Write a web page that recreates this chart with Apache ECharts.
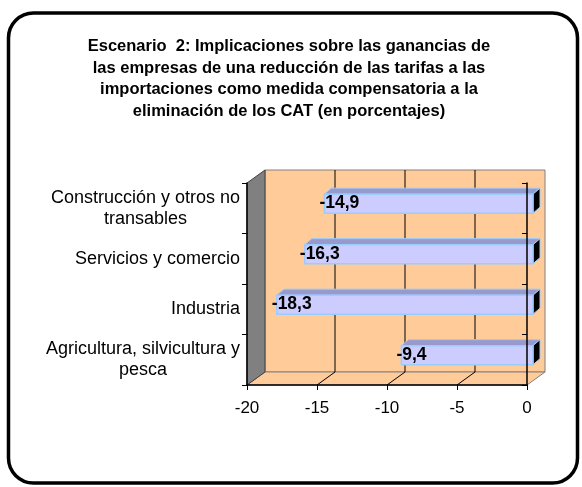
<!DOCTYPE html>
<html>
<head>
<meta charset="utf-8">
<script src="https://cdn.jsdelivr.net/npm/echarts@6/dist/echarts.min.js"></script>
<style>
html,body{margin:0;padding:0;background:#fff;}
#chart{width:582px;height:487px;}
</style>
</head>
<body>
<div id="chart"></div>
<script>
// ---- data ----
const titleText = 'Escenario  2: Implicaciones sobre las ganancias de\nlas empresas de una reducción de las tarifas a las\nimportaciones como medida compensatoria a la\neliminación de los CAT (en porcentajes)';
const categories = ['Agricultura, silvicultura y\npesca', 'Industria', 'Servicios y comercio', 'Construcción y otros no\ntransables'];
const values = [-9.4, -18.3, -16.3, -14.9];
const xTickValues = [-20, -15, -10, -5, 0];

// ---- style constants ----
const DEPTH_X = 18, DEPTH_Y = 13;      // wall depth
const BAR_OFF_X = 6, BAR_OFF_Y = 4.6;  // bar front face offset
const BAR_DX = 7, BAR_DY = 6;          // bar depth
const BAR_H = 19;
const FONT = 'Arial, "Liberation Sans", sans-serif';

const chart = echarts.init(document.getElementById('chart'));

function fmt(v) { return v.toFixed(1).replace('.', ','); }

const option = {
  animation: false,
  backgroundColor: '#ffffff',
  title: {
    text: titleText,
    left: 284, top: 31,
    textAlign: 'center',
    textStyle: { fontFamily: FONT, fontSize: 16.5, fontWeight: 'bold', color: '#000', lineHeight: 21.5 }
  },
  graphic: [{
    type: 'rect', z: 100,
    shape: { x: 8.5, y: 13, width: 569, height: 470, r: 25 },
    style: { fill: 'none', stroke: '#000', lineWidth: 3.5 }
  }],
  grid: { left: 247, right: 55, top: 183, bottom: 102, containLabel: false },
  xAxis: {
    type: 'value',
    min: xTickValues[0], max: xTickValues[xTickValues.length - 1], interval: 5,
    z: 10,
    axisLine: { show: true, lineStyle: { color: '#000', width: 1.5 } },
    axisTick: { show: true, length: 5, lineStyle: { color: '#000' } },
    splitLine: { show: false },
    axisLabel: { fontFamily: FONT, fontSize: 17, color: '#000', margin: 15 }
  },
  yAxis: [{
    type: 'category', data: categories, position: 'left',
    z: 10,
    axisLine: { show: true, onZero: false, lineStyle: { color: '#000', width: 1.5 } },
    axisTick: { show: true, length: 5, lineStyle: { color: '#000' } },
    axisLabel: {
      margin: 7, align: 'right',
      formatter: function (s) { return s.split('\n').map(function (l) { return '{c|' + l + '}'; }).join('\n'); },
      rich: { c: { align: 'center', fontFamily: FONT, fontSize: 18, color: '#000', lineHeight: 21 } }
    },
    splitLine: { show: false }
  }, {
    type: 'category', data: categories, position: 'right',
    z: 10,
    axisLine: { show: true, onZero: false, lineStyle: { color: '#000', width: 1.5 } },
    axisTick: { show: true, inside: true, length: 5, lineStyle: { color: '#000' } },
    axisLabel: { show: false },
    splitLine: { show: false }
  }],
  series: [{
    type: 'custom',
    name: 'frame',
    z: 1,
    silent: true,
    data: [[0, 0]],
    renderItem: function (params, api) {
      const cs = params.coordSys;
      const x = cs.x, y = cs.y, w = cs.width, h = cs.height;
      const ch = [];
      ch.push({ type: 'rect', shape: { x: x + DEPTH_X, y: y - DEPTH_Y, width: w, height: h },
        style: { fill: '#FFCC99', stroke: '#808080', lineWidth: 1 } });
      ch.push({ type: 'polygon', shape: { points: [[x, y + h], [x + w, y + h], [x + w + DEPTH_X, y + h - DEPTH_Y], [x + DEPTH_X, y + h - DEPTH_Y]] },
        style: { fill: '#FFCC99', stroke: '#808080', lineWidth: 1 } });
      ch.push({ type: 'polygon', shape: { points: [[x, y], [x + DEPTH_X, y - DEPTH_Y], [x + DEPTH_X, y + h - DEPTH_Y], [x, y + h]] },
        style: { fill: '#808080', stroke: '#404040', lineWidth: 1 } });
      xTickValues.slice(1, -1).forEach(function (v) {
        const px = api.coord([v, 0])[0];
        ch.push({ type: 'line', shape: { x1: px + DEPTH_X, y1: y - DEPTH_Y, x2: px + DEPTH_X, y2: y + h - DEPTH_Y },
          style: { stroke: '#000', lineWidth: 1 } });
        ch.push({ type: 'line', shape: { x1: px, y1: y + h, x2: px + DEPTH_X, y2: y + h - DEPTH_Y },
          style: { stroke: '#000', lineWidth: 1 } });
      });
      return { type: 'group', children: ch };
    }
  }, {
    type: 'custom',
    name: 'bars',
    z: 2,
    data: values.map(function (v, i) { return [v, i]; }),
    encode: { x: 0, y: 1 },
    renderItem: function (params, api) {
      const v = api.value(0), idx = api.value(1);
      const p0 = api.coord([0, idx]);
      const p1 = api.coord([v, idx]);
      const L = p1[0] + BAR_OFF_X, R = p0[0] + BAR_OFF_X;
      const cy = p0[1] - BAR_OFF_Y;
      const T = cy - BAR_H / 2, B = cy + BAR_H / 2;
      return {
        type: 'group',
        children: [
          { type: 'polygon', shape: { points: [[L, T], [R, T], [R + BAR_DX, T - BAR_DY], [L + BAR_DX, T - BAR_DY]] },
            style: { fill: '#9999CC', stroke: '#99CCFF', lineWidth: 1 } },
          { type: 'polygon', shape: { points: [[R, T], [R + BAR_DX, T - BAR_DY], [R + BAR_DX, B - BAR_DY], [R, B]] },
            style: { fill: '#000000', stroke: '#99CCFF', lineWidth: 1 } },
          { type: 'rect', shape: { x: L, y: T, width: R - L, height: B - T },
            style: { fill: '#CCCCFF', stroke: '#99CCFF', lineWidth: 1.5 } },
          { type: 'text', style: { text: fmt(v), x: L - 5, y: cy, align: 'left', verticalAlign: 'middle',
            font: 'bold 17.5px ' + FONT, fill: '#000' } }
        ]
      };
    }
  }]
};
chart.setOption(option);
</script>
</body>
</html>
